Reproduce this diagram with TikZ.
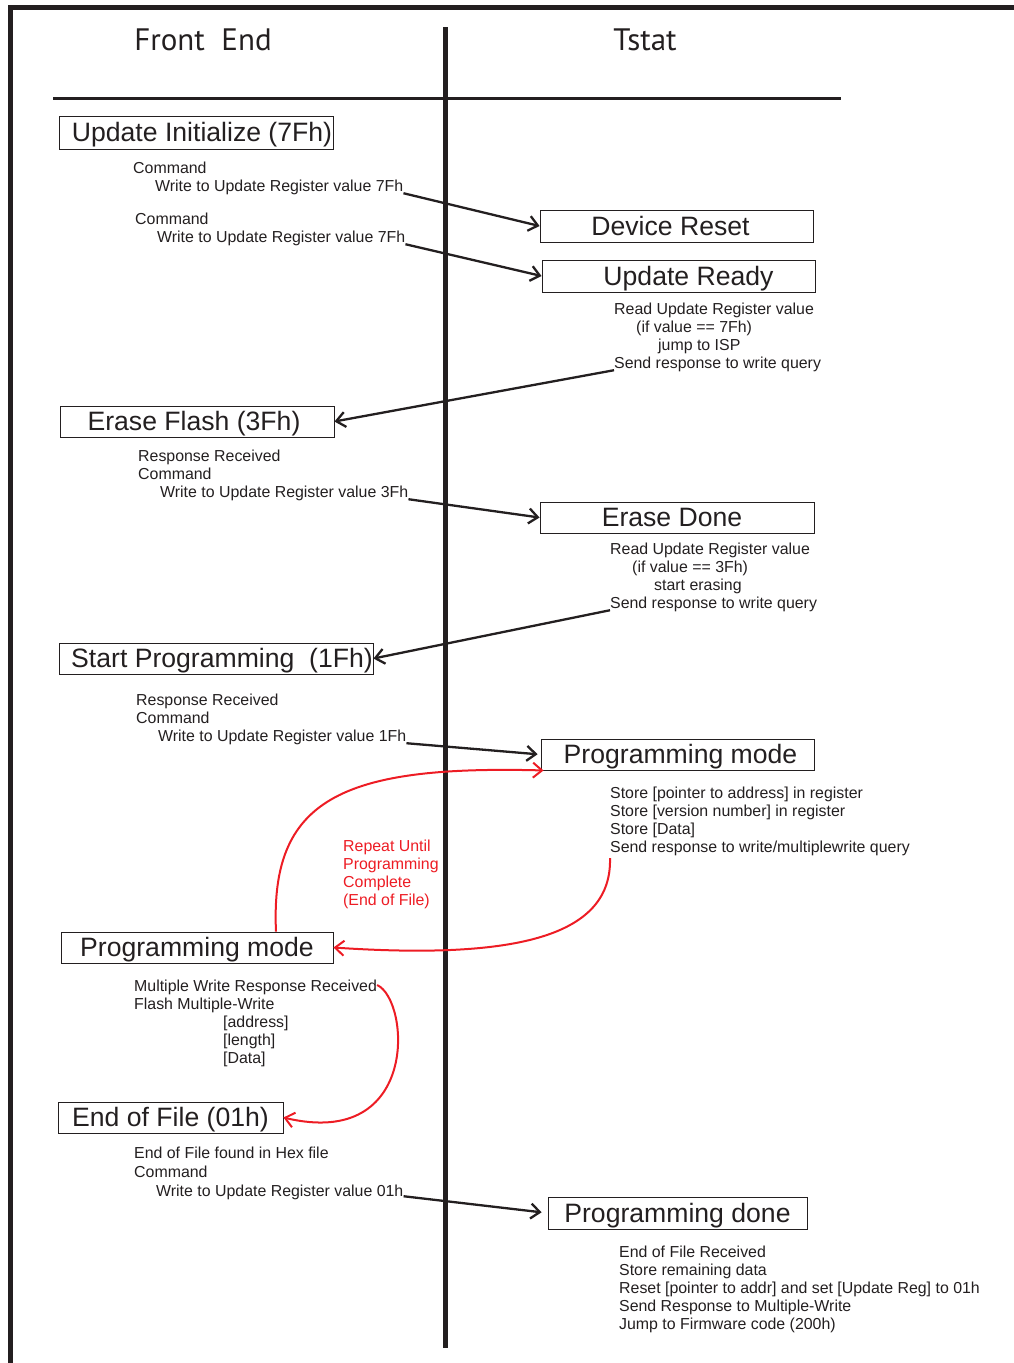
\documentclass[tikz,border=0pt]{standalone}
\usepackage{fontspec}
\setmainfont{Liberation Sans}
\newfontfamily\titlefont{PT Sans}
\usetikzlibrary{arrows.meta}
\definecolor{ink}{HTML}{231F20}
\definecolor{redink}{HTML}{ED1C24}
\begin{document}
\begin{tikzpicture}[x=1pt,y=-1pt,
  box/.style={draw=ink,line width=0.9pt,inner sep=0pt,text=ink,text height=20.5pt,text depth=2pt,font=\fontsize{26.6}{30}\selectfont},
  txt/.style={align=left,anchor=north west,inner sep=0pt,text=ink,font=\fontsize{15.9}{18}\selectfont},
  rtxt/.style={txt,text=redink},
  title/.style={inner sep=0pt,text=ink,font=\titlefont\fontsize{31}{36}\selectfont},
  msg/.style={draw=ink,line width=2.3pt,-{Straight Barb[length=9pt,width=15pt]}},
  loopa/.style={draw=redink,line width=2pt,-{Straight Barb[length=9pt,width=15pt]}}
]
\useasboundingbox (0,0) rectangle (1014,1363);
% frame and lifelines
\draw[ink,line width=5pt] (10,1363) -- (10,7.5) -- (1014,7.5);
\draw[ink,line width=5pt] (445,27) -- (445,1348);
\draw[ink,line width=3pt] (53,98) -- (841,98);
\node[title] (tfe) at (203,40) {Front\ \ End};
\node[title] (tts) at (645,40) {Tstat};

% boxes
\node[box,minimum width=274pt,minimum height=33pt] (UI) at (196,132.5) {\hspace*{12pt}Update Initialize (7Fh)};
\node[box,minimum width=273pt,minimum height=32pt] (DR) at (676.5,226) {Device Reset\hspace*{12pt}};
\node[box,minimum width=273pt,minimum height=32pt] (UR) at (678.5,276) {\hspace*{20pt}Update Ready};
\node[box,minimum width=274pt,minimum height=31pt] (EF) at (197,421.5) {Erase Flash (3Fh)\hspace*{6pt}};
\node[box,minimum width=274pt,minimum height=31pt] (ED) at (677,517.5) {Erase Done\hspace*{10pt}};
\node[box,minimum width=314pt,minimum height=31pt] (SP) at (216,658.5) {\hspace*{12pt}Start Programming\ \ (1Fh)};
\node[box,minimum width=273pt,minimum height=31pt] (PMR) at (677.5,754.5) {\hspace*{6pt}Programming mode};
\node[box,minimum width=272pt,minimum height=31pt] (PML) at (197,947.5) {Programming mode};
\node[box,minimum width=225pt,minimum height=31pt] (EOF) at (170.5,1117.5) {End of File (01h)};
\node[box,minimum width=259pt,minimum height=32pt] (PD) at (677.5,1213) {Programming done};

% text blocks
\node[txt] (A1) at (133,162) {Command\\\hspace*{22pt}Write to Update Register value 7Fh};
\node[txt] (A2) at (135,213) {Command\\\hspace*{22pt}Write to Update Register value 7Fh};
\node[txt] (B) at (614,303) {Read Update Register value\\\hspace*{22pt}(if value == 7Fh)\\\hspace*{44pt}jump to ISP\\Send response to write query};
\node[txt] (C) at (138,450) {Response Received\\Command\\\hspace*{22pt}Write to Update Register value 3Fh};
\node[txt] (D) at (610,543) {Read Update Register value\\\hspace*{22pt}(if value == 3Fh)\\\hspace*{44pt}start erasing\\Send response to write query};
\node[txt] (E) at (136,694) {Response Received\\Command\\\hspace*{22pt}Write to Update Register value 1Fh};
\node[txt] (F) at (610,787) {Store [pointer to address] in register\\Store [version number] in register\\Store [Data]\\Send response to write/multiplewrite query};
\node[rtxt] (R) at (343,840) {Repeat Until\\Programming\\Complete\\(End of File)};
\node[txt] (G) at (134,980) {Multiple Write Response Received\\Flash Multiple-Write\\\hspace*{89pt}[address]\\\hspace*{89pt}[length]\\\hspace*{89pt}[Data]};
\node[txt,font=\fontsize{15.9}{19}\selectfont] (H) at (134,1147) {End of File found in Hex file\\Command\\\hspace*{22pt}Write to Update Register value 01h};
\node[txt] (I) at (619,1246) {End of File Received\\Store remaining data\\Reset [pointer to addr] and set [Update Reg] to 01h\\Send Response to Multiple-Write\\Jump to Firmware code (200h)};

% messages
\draw[msg] ([yshift=2pt]A1.south east) -- (DR.west);
\draw[msg] ([yshift=2pt]A2.south east) -- (UR.west);
\draw[msg] ([yshift=2pt]B.south west) -- (EF.east);
\draw[msg] ([yshift=2pt]C.south east) -- (ED.west);
\draw[msg] ([yshift=2pt]D.south west) -- (SP.east);
\draw[msg,shorten >=3pt] ([yshift=2pt]E.south east) -- (PMR.west);
\draw[msg,shorten >=6pt] ([yshift=4pt]H.south east) -- (PD.west);

% loops
\draw[loopa] ([xshift=79pt]PML.north) .. controls (270,800) and (340,765) .. ([xshift=3pt]PMR.south west);
\draw[loopa] ([yshift=-2pt]F.south west) .. controls (612,935) and (520,960) .. (PML.east);
\draw[loopa] ([yshift=-5pt]G.north east) .. controls (410,1000) and (420,1150) .. (EOF.east);
\end{tikzpicture}
\end{document}
